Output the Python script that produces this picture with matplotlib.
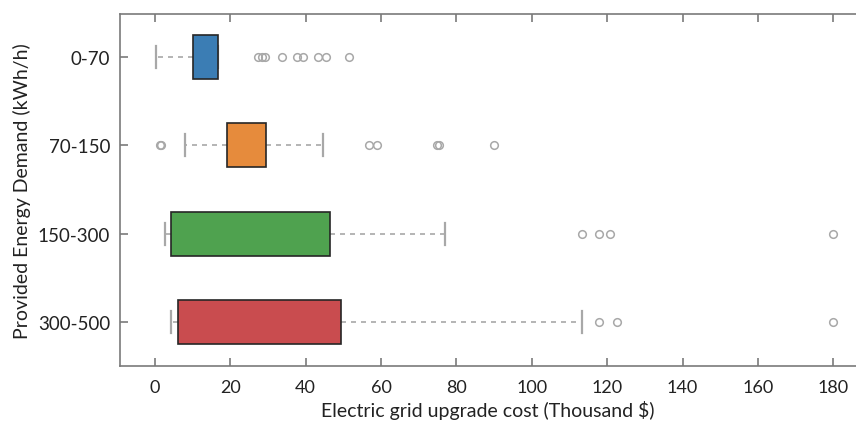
import matplotlib
matplotlib.use("Agg")
import matplotlib.pyplot as plt

# demand categories and box statistics (thousand $)
categories = ["0-70", "70-150", "150-300", "300-500"]
q1 = [10.1, 19.2, 4.2, 6.2]
q3 = [16.7, 29.4, 46.5, 49.3]
med = [13.0, 24.0, 20.0, 22.0]
whis_lo = [0.3, 8.1, 2.7, 4.2]
whis_hi = [16.7, 44.6, 77.0, 113.2]
outliers = [
    [27.3, 28.3, 29.2, 33.6, 37.8, 39.4, 43.3, 45.3, 51.4],
    [1.3, 1.7, 56.7, 58.8, 74.8, 75.3, 89.9],
    [113.2, 117.8, 120.7, 179.9],
    [117.8, 122.7, 179.9],
]
colors = ["#3b7db4", "#e68b3c", "#4fa24f", "#c94c4f"]

stats = []
for i, name in enumerate(categories):
    stats.append({
        "label": name, "q1": q1[i], "q3": q3[i], "med": med[i],
        "whislo": whis_lo[i], "whishi": whis_hi[i], "fliers": outliers[i],
    })

plt.rcParams["font.family"] = ["Lato", "DejaVu Sans"]

fig = plt.figure(figsize=(8.56, 4.27), dpi=100)
ax = fig.add_axes([0.14, 0.1405, 0.86, 0.8245])

grey = "#a8a8a8"
bp = ax.bxp(
    stats, positions=range(len(categories)), orientation="horizontal",
    widths=0.5, patch_artist=True,
    boxprops=dict(edgecolor="#262626", linewidth=1.2, zorder=3),
    whiskerprops=dict(color=grey, linewidth=1.2, linestyle=(0, (3, 3))),
    capprops=dict(color=grey, linewidth=1.6),
    medianprops=dict(visible=False),
    flierprops=dict(marker="o", markersize=5.5, markerfacecolor="none",
                    markeredgecolor=grey, markeredgewidth=1.1),
)
for patch, c in zip(bp["boxes"], colors):
    patch.set_facecolor(c)

ax.set_xlim(-9.3, 186)
ax.set_ylim(3.5, -0.49)
ax.set_xticks(range(0, 181, 20))
ax.set_yticks(range(len(categories)))
ax.set_yticklabels(categories)

for side in ["left", "bottom", "top"]:
    ax.spines[side].set_color("#7a7a7a")
    ax.spines[side].set_linewidth(1.2)
ax.spines["right"].set_visible(False)
ax.tick_params(axis="both", direction="in", length=6, width=1.2,
               color="#7a7a7a", labelcolor="#222222", top=True)
ax.tick_params(axis="x", labelsize=13, pad=9)
ax.tick_params(axis="y", labelsize=13.5, pad=7)

ax.set_xlabel("Electric grid upgrade cost (Thousand $)", fontsize=14,
              color="#222222", labelpad=4)
ax.set_ylabel("Provided Energy Demand (kWh/h)", fontsize=14,
              color="#222222", labelpad=5)

fig.savefig("out.png", dpi=100)
